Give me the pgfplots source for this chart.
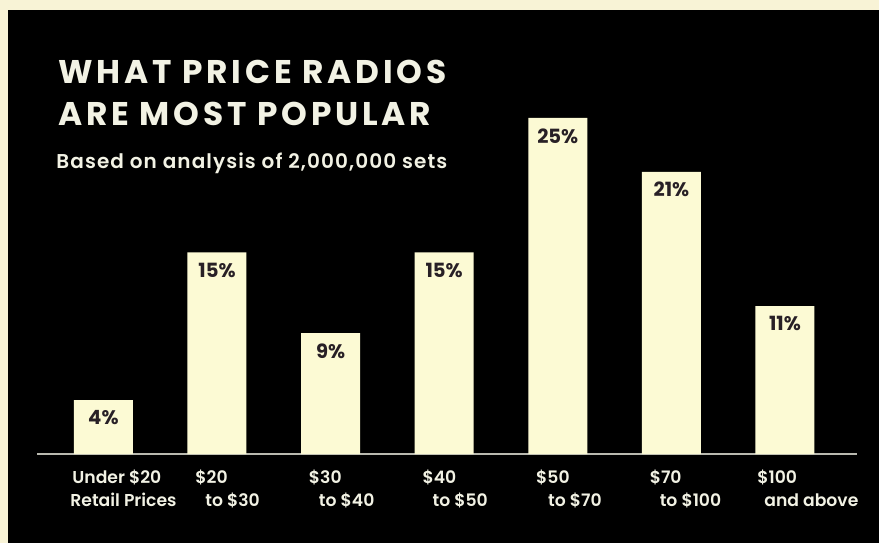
\documentclass[border=0pt]{standalone}
\usepackage{fontspec}
\setmainfont{Poppins}
\newfontfamily\titlefont{Poppins}[LetterSpace=11.5]
\newfontfamily\subfont{Poppins SemiBold}[LetterSpace=5.5]
\newfontfamily\tickfont{Poppins SemiBold}
\usepackage{pgfplots}
\pgfplotsset{compat=1.18}
\definecolor{cream}{RGB}{248,243,214}
\definecolor{barcol}{RGB}{252,250,212}
\definecolor{txt}{RGB}{242,242,228}
\definecolor{lbl}{RGB}{40,32,38}
\definecolor{basecol}{RGB}{185,185,175}
\begin{document}
\begin{tikzpicture}
\useasboundingbox (0,0) rectangle (439.5pt,271pt);
\fill[cream] (-2pt,-2pt) rectangle (442pt,273pt);
\fill[black] (4pt,-2pt) rectangle (442pt,266pt);
\begin{axis}[
 at={(18.5pt,44pt)}, anchor=south west,
 scale only axis, width=410pt, height=168pt,
 xmin=-0.5845, xmax=6.634, ymin=0, ymax=25,
 axis y line=none, axis x line*=bottom,
 x axis line style={basecol, line width=1pt, -},
 xtick={0,...,6}, major tick length=0pt,
 xticklabels={{\hspace*{-4.7pt}Under \$20\\\hspace*{-5.7pt}Retail Prices}, {\$20\\\hspace*{5pt}to \$30}, {\$30\\\hspace*{5pt}to \$40}, {\$40\\\hspace*{5pt}to \$50}, {\$50\\\hspace*{6pt}to \$70}, {\$70\\\hspace*{5pt}to \$100}, {\hspace*{-3pt}\$100\\\hspace*{0.5pt}and above}},
 xticklabel style={anchor=north west, align=left, inner sep=0pt, xshift=-11pt, yshift=-8pt, text=txt, font=\tickfont\fontsize{8.6}{11.25}\selectfont},
 ybar, bar width=29.5pt,
 /pgf/number format/assume math mode=true,
 nodes near coords={\pgfmathprintnumber{\pgfplotspointmeta}\%},
 nodes near coords style={anchor=north, inner sep=0pt, yshift=-5pt, text=lbl, font=\bfseries\fontsize{9.8}{10}\selectfont},
 clip=false,
]
\addplot[fill=barcol, draw=none] coordinates {(0,4) (1,15) (2,9) (3,15) (4,25) (5,21) (6,11)};
\end{axis}
\node[anchor=base west, inner sep=0pt, text=txt, font=\titlefont\bfseries\fontsize{16.4}{20}\selectfont] at (29pt,229pt) {WHAT PRICE RADIOS};
\node[anchor=base west, inner sep=0pt, text=txt, font=\titlefont\bfseries\fontsize{16.4}{20}\selectfont] at (29pt,208pt) {ARE MOST POPULAR};
\node[anchor=base west, inner sep=0pt, text=txt, font=\subfont\fontsize{10}{12}\selectfont] at (28pt,186.5pt) {Based on analysis of 2,000,000 sets};
\end{tikzpicture}
\end{document}
